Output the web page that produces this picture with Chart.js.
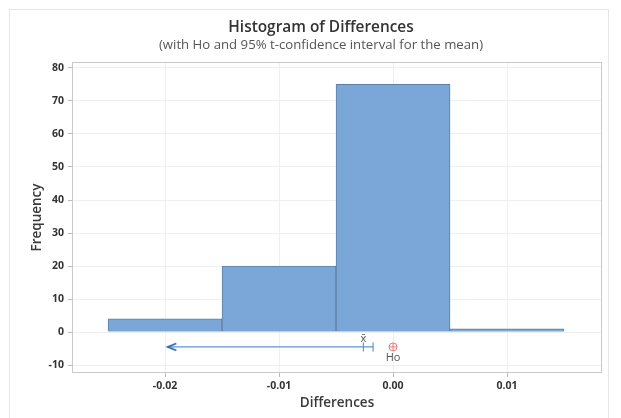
<!DOCTYPE html>
<html>
<head>
<meta charset="utf-8">
<script src="https://cdn.jsdelivr.net/npm/chart.js@4.4.1/dist/chart.umd.min.js"></script>
<style>
html,body{margin:0;padding:0;background:#fff;}
#wrap{width:621px;height:418px;position:relative;}
</style>
</head>
<body>
<div id="wrap"><canvas id="c" width="621" height="418"></canvas></div>
<script>
// ---- data ----
const binCenters = [-0.02, -0.01, 0.00, 0.01];
const frequencies = [4, 20, 75, 1];
const xTicks = [-0.02, -0.01, 0.00, 0.01];
const yTicks = [-10, 0, 10, 20, 30, 40, 50, 60, 70, 80];
const ciBounds = [-0.0198, -0.00175];   // arrow end (one-sided) and upper bound
const meanDiff = [-0.0026];
const h0Value = [0.0];
const markerRow = [-4.5];
const titleText = 'Histogram of Differences';
const subtitleText = '(with Ho and 95% t-confidence interval for the mean)';

const FONT = '"Open Sans", "Noto Sans", sans-serif';

// arrow head canvas (tip at centre)
const arrow = document.createElement('canvas');
arrow.width = 24; arrow.height = 12;
(function(){
  const g = arrow.getContext('2d');
  g.strokeStyle = '#2a66ad'; g.lineWidth = 1.7;
  g.beginPath(); g.moveTo(21, 2.5); g.lineTo(12.5, 6); g.lineTo(21, 9.5); g.stroke();
})();

const framePlugin = {
  id: 'frame',
  beforeDraw(chart) {
    const ctx = chart.ctx;
    ctx.save();
    ctx.fillStyle = '#fff';
    ctx.fillRect(0, 0, chart.width, chart.height);
    ctx.strokeStyle = '#e6e6e6'; ctx.lineWidth = 1;
    ctx.strokeRect(9.5, 9.5, 599, 420);
    ctx.textAlign = 'center'; ctx.textBaseline = 'middle';
    ctx.fillStyle = '#333';
    ctx.font = '600 15.4px ' + FONT;
    ctx.fillText(titleText, 321, 28);
    ctx.fillStyle = '#555';
    ctx.font = '13.2px ' + FONT;
    ctx.fillText(subtitleText, 321, 45);
    ctx.restore();
  },
  afterDatasetsDraw(chart) {
    const ctx = chart.ctx, a = chart.chartArea;
    const xs = chart.scales.x, ys = chart.scales.y;
    ctx.save();
    ctx.strokeStyle = '#c9c9c9'; ctx.lineWidth = 1;
    ctx.strokeRect(Math.round(a.left) + 0.5, Math.round(a.top) + 0.5, Math.round(a.right - a.left) - 1, Math.round(a.bottom - a.top) - 1);
    ctx.textAlign = 'center';
    ctx.font = '11px ' + FONT;
    ctx.fillStyle = '#555';
    ctx.textBaseline = 'bottom';
    ctx.fillText('x\u0304', xs.getPixelForValue(meanDiff[0]), ys.getPixelForValue(markerRow[0]) - 3);
    ctx.textBaseline = 'top';
    ctx.fillText('Ho', xs.getPixelForValue(h0Value[0]), ys.getPixelForValue(markerRow[0]) + 5);
    ctx.restore();
  }
};

new Chart(document.getElementById('c'), {
  type: 'bar',
  data: {
    datasets: [
      {
        type: 'bar',
        data: binCenters.map((x, i) => ({x: x, y: frequencies[i]})),
        backgroundColor: '#7ba6d8',
        borderColor: '#5f7fa6',
        borderWidth: 1,
        barPercentage: 1,
        categoryPercentage: 1,
        order: 5
      },
      {
        type: 'line',
        data: ciBounds.map(x => ({x: x, y: markerRow[0]})),
        borderColor: '#5b97d4',
        borderWidth: 1.2,
        pointStyle: [arrow, 'line'],
        pointRotation: [0, 90],
        pointRadius: [6, 4.5],
        pointBorderColor: '#5b97d4',
        pointBorderWidth: 1.2,
        fill: false,
        order: 1
      },
      {
        type: 'scatter',
        data: meanDiff.map(x => ({x: x, y: markerRow[0]})),
        pointStyle: 'line',
        rotation: 90,
        pointRadius: 4.5,
        borderColor: '#5b97d4',
        borderWidth: 1.2,
        order: 0
      },
      {
        type: 'scatter',
        data: h0Value.map(x => ({x: x, y: markerRow[0]})),
        pointStyle: 'circle',
        pointRadius: 4,
        backgroundColor: 'rgba(0,0,0,0)',
        borderColor: '#e77b7b',
        borderWidth: 1,
        order: 0
      },
      {
        type: 'scatter',
        data: h0Value.map(x => ({x: x, y: markerRow[0]})),
        pointStyle: 'cross',
        pointRadius: 4,
        borderColor: '#e77b7b',
        borderWidth: 1,
        order: 0
      }
    ]
  },
  options: {
    responsive: false,
    animation: false,
    layout: {padding: {top: 62, left: 10, right: 19, bottom: 6}},
    plugins: {legend: {display: false}, tooltip: {enabled: false}},
    scales: {
      x: {
        type: 'linear',
        offset: false,
        min: -0.02816, max: 0.01833,
        afterBuildTicks(s) { s.ticks = xTicks.map(v => ({value: v})); },
        afterFit(s) { s.height = 39; },
        grid: {color: '#efefef', tickLength: 4, tickColor: '#bbb', drawTicks: true, offset: false},
        border: {display: false},
        ticks: {
          callback: v => v.toFixed(2),
          color: '#333', padding: 3,
          font: {family: FONT, size: 10.5, weight: '700'},
          maxRotation: 0
        },
        title: {display: true, text: 'Differences', color: '#3a3a3a',
          font: {family: FONT, size: 13.5, weight: '600'}, padding: {top: 0, bottom: 1}}
      },
      y: {
        type: 'linear',
        min: -12.4, max: 81.8,
        afterBuildTicks(s) { s.ticks = yTicks.map(v => ({value: v})); },
        afterFit(s) { s.width = 62; },
        grid: {color: '#efefef', tickLength: 4, tickColor: '#bbb'},
        border: {display: false},
        ticks: {color: '#333', padding: 4, font: {family: FONT, size: 10.5, weight: '700'}},
        title: {display: true, text: 'Frequency', color: '#3a3a3a',
          font: {family: FONT, size: 13.5, weight: '600'}, padding: {top: 19, bottom: 0}}
      }
    }
  },
  plugins: [framePlugin]
});
</script>
</body>
</html>
